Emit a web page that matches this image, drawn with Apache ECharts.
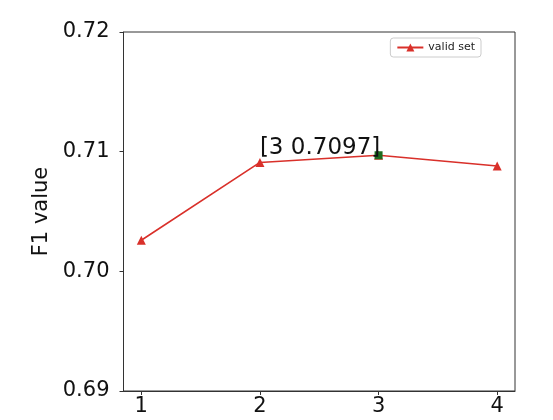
<!DOCTYPE html>
<html><head><meta charset="utf-8">
<script src="https://cdn.jsdelivr.net/npm/echarts@6/dist/echarts.min.js"></script>
<style>html,body{margin:0;padding:0;background:#fff}#c{width:553px;height:420px}</style>
</head><body><div id="c"></div>
<script>
const xValues = [1, 2, 3, 4];
const f1Values = [0.7026, 0.7091, 0.7097, 0.7088];
const bestPoint = [3, 0.7097];
const annotationAnchor = [2, 0.7097];
const annotationText = '[3 0.7097]';
const xTicks = [1, 2, 3, 4];
const yTicks = [0.69, 0.70, 0.71, 0.72];

const chart = echarts.init(document.getElementById('c'), null, {renderer: 'canvas'});
const font = 'DejaVu Sans';
chart.setOption({
  animation: false,
  backgroundColor: '#fff',
  textStyle: {fontFamily: font},
  grid: {left: 123.5, right: 38, top: 32, bottom: 29, show: true, borderColor: '#333', borderWidth: 1, backgroundColor: 'transparent'},
  legend: {
    right: 72, top: 38, orient: 'vertical',
    borderColor: '#ccc', borderWidth: 1, borderRadius: 3, padding: [4, 6, 4, 6],
    itemWidth: 26, itemHeight: 10, itemGap: 4,
    textStyle: {fontFamily: font, fontSize: 11, color: '#222'},
    data: ['valid set']
  },
  xAxis: {
    type: 'value', min: 0.85, max: 4.15,
    axisLine: {show: true, lineStyle: {color: '#333'}},
    axisTick: {show: true, length: 4, inside: false, customValues: xTicks, lineStyle: {color: '#333'}},
    axisLabel: {customValues: xTicks, fontFamily: font, fontSize: 21, color: '#111', margin: 5},
    splitLine: {show: false}
  },
  yAxis: {
    type: 'value', min: 0.69, max: 0.72,
    name: 'F1 value', nameLocation: 'middle', nameGap: 65,
    nameTextStyle: {fontFamily: font, fontSize: 21, color: '#111'},
    axisLine: {show: true, lineStyle: {color: '#333'}},
    axisTick: {show: true, length: 4, customValues: yTicks, lineStyle: {color: '#333'}},
    axisLabel: {customValues: yTicks, fontFamily: font, fontSize: 21, color: '#111', margin: 14,
      formatter: v => v.toFixed(2)},
    splitLine: {show: false}
  },
  series: [
    {
      name: 'valid set', type: 'line',
      data: xValues.map((x, i) => [x, f1Values[i]]),
      symbol: 'triangle', symbolSize: 9, showAllSymbol: true,
      lineStyle: {color: '#d9302a', width: 1.6},
      itemStyle: {color: '#d9302a'},
      z: 3
    },
    {
      name: 'best', type: 'scatter',
      data: [bestPoint],
      symbol: 'rect', symbolSize: 8,
      itemStyle: {color: '#1f6b1f', opacity: 1},
      z: 4
    },
    {
      name: 'annotation', type: 'scatter',
      data: [annotationAnchor],
      symbolSize: 0.1,
      itemStyle: {opacity: 1, color: 'transparent'},
      label: {show: true, formatter: annotationText, position: [0, 4], align: 'left', verticalAlign: 'bottom',
        fontFamily: font, fontSize: 23, color: '#111'},
      z: 5
    }
  ]
});
</script></body></html>
